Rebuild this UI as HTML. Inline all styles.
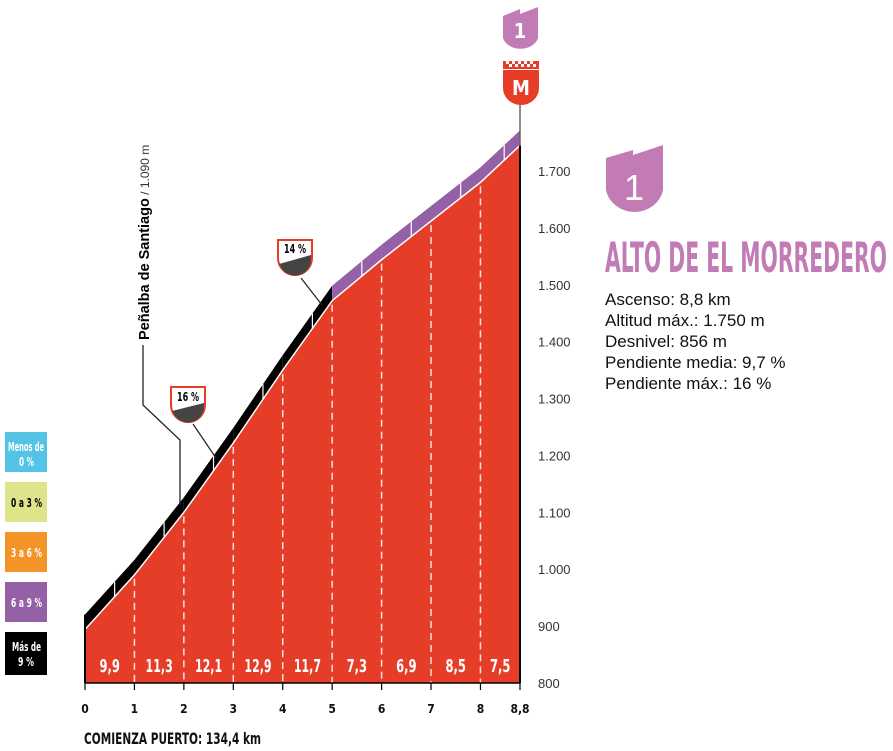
<!DOCTYPE html>
<html><head><meta charset="utf-8"><style>
body{margin:0;background:#fff;width:893px;height:751px;overflow:hidden}
svg{display:block}
.c{font-family:"DejaVu Sans Condensed","Liberation Sans Narrow","Liberation Sans",sans-serif;font-weight:bold;font-stretch:condensed}
.r{font-family:"Liberation Sans",sans-serif}
</style></head><body>
<svg id="chart" width="893" height="751" viewBox="0 0 893 751" xmlns="http://www.w3.org/2000/svg">
<g id="legend">
 <rect x="5" y="432" width="42" height="40" fill="#55c3e6"/>
 <text class="c" x="8" y="451" font-size="12" fill="#fff" textLength="36" lengthAdjust="spacingAndGlyphs">Menos de</text>
 <text class="c" x="19" y="466" font-size="12" fill="#fff" textLength="15" lengthAdjust="spacingAndGlyphs">0 %</text>
 <rect x="5" y="482" width="42" height="40" fill="#dde48a"/>
 <text class="c" x="11" y="507" font-size="12" fill="#000" textLength="31" lengthAdjust="spacingAndGlyphs">0 a 3 %</text>
 <rect x="5" y="532" width="42" height="40" fill="#f39426"/>
 <text class="c" x="11" y="557" font-size="12" fill="#fff" textLength="31" lengthAdjust="spacingAndGlyphs">3 a 6 %</text>
 <rect x="5" y="582" width="42" height="40" fill="#9460a6"/>
 <text class="c" x="11" y="607" font-size="12" fill="#fff" textLength="31" lengthAdjust="spacingAndGlyphs">6 a 9 %</text>
 <rect x="5" y="632" width="42" height="43" fill="#000"/>
 <text class="c" x="12" y="651" font-size="12" fill="#fff" textLength="29" lengthAdjust="spacingAndGlyphs">Más de</text>
 <text class="c" x="18" y="666" font-size="12" fill="#fff" textLength="16" lengthAdjust="spacingAndGlyphs">9 %</text>
</g>
<g id="plot"></g>
<g>
 <polyline points="143,345 143,405 180,440 180,505" fill="none" stroke="#222" stroke-width="1.3"/>
 <text transform="translate(149,340) rotate(-90)" font-size="14.5"><tspan class="r" font-weight="bold">Peñalba de Santiago</tspan><tspan class="r" font-size="12" fill="#333"> / 1.090 m</tspan></text>
</g>
<g>
 <line x1="193" y1="424" x2="216" y2="458" stroke="#222" stroke-width="1.2"/>
 <path d="M171,387 H205 V405 A17,17 0 0 1 171,405 Z" fill="#fff" stroke="#e53d27" stroke-width="2"/>
 <path d="M172,411 L204,403 V406 A16,16 0 0 1 173,412 Z" fill="#444"/>
 <text class="c" x="177" y="401" font-size="12" textLength="22" lengthAdjust="spacingAndGlyphs">16 %</text>
</g>
<g>
 <line x1="301" y1="278" x2="322" y2="305" stroke="#222" stroke-width="1.2"/>
 <path d="M278,240 H312 V258 A17,17 0 0 1 278,258 Z" fill="#fff" stroke="#e53d27" stroke-width="2"/>
 <path d="M279,264 L311,255 V259 A16,16 0 0 1 280,265 Z" fill="#444"/>
 <text class="c" x="284" y="253" font-size="12" textLength="22" lengthAdjust="spacingAndGlyphs">14 %</text>
</g>
<g>
 <path d="M503,16 L520,9 V14 L538,7 V38 A18,14 0 0 1 503,38 Z" fill="#c27bb5"/>
 <text class="c" x="520" y="38" font-size="20" fill="#fff" text-anchor="middle">1</text>
</g>
<g>
 <rect x="503" y="61" width="36" height="8" fill="#e53d27"/>
 <g fill="#fff"><rect x="506" y="61" width="3" height="3"/><rect x="512" y="61" width="3" height="3"/><rect x="518" y="61" width="3" height="3"/><rect x="524" y="61" width="3" height="3"/><rect x="530" y="61" width="3" height="3"/><rect x="509" y="64" width="3" height="3"/><rect x="515" y="64" width="3" height="3"/><rect x="521" y="64" width="3" height="3"/><rect x="527" y="64" width="3" height="3"/><rect x="533" y="64" width="3" height="3"/></g>
 <path d="M503,70 H539 V88 A18,17 0 0 1 503,88 Z" fill="#e53d27"/>
 <text class="c" x="521" y="95" font-size="20" fill="#fff" text-anchor="middle">M</text>
 <line x1="520" y1="105" x2="520" y2="145" stroke="#666" stroke-width="1.5"/>
</g>
<g>
 <path d="M606,158 L633,150 V155 L663,145 V190 A29,27 0 0 1 606,190 Z" fill="#c27bb5"/>
 <text class="r" x="634" y="200" font-size="36" fill="#fff" text-anchor="middle" font-family="Liberation Serif">1</text>
</g>
<text class="c" x="605" y="272" font-size="42" fill="#c27bb5" textLength="282" lengthAdjust="spacingAndGlyphs">ALTO DE EL MORREDERO</text>
<g class="r" font-size="17" fill="#111">
 <text x="605" y="305">Ascenso: 8,8 km</text>
 <text x="605" y="326">Altitud máx.: 1.750 m</text>
 <text x="605" y="347">Desnivel: 856 m</text>
 <text x="605" y="368">Pendiente media: 9,7 %</text>
 <text x="605" y="389">Pendiente máx.: 16 %</text>
</g>
<text class="c" x="84" y="744" font-size="16" fill="#111" textLength="177" lengthAdjust="spacingAndGlyphs">COMIENZA PUERTO: 134,4 km</text>
</svg>
<script>
const kms = [0,1,2,3,4,5,6,7,8,8.8];
const elevations = [894,990,1100,1222,1350,1472,1544,1612,1680,1745];
const gradients = [9.9,11.3,12.1,12.9,11.7,7.3,6.9,8.5,7.5];
const xTicks = [0,1,2,3,4,5,6,7,8,8.8];
const xTickLabels = ["0","1","2","3","4","5","6","7","8","8,8"];
const yTicks = [800,900,1000,1100,1200,1300,1400,1500,1600,1700];
const yTickLabels = ["800","900","1.000","1.100","1.200","1.300","1.400","1.500","1.600","1.700"];

const NS="http://www.w3.org/2000/svg";
const X=k=>85+k*(435/8.8);
const Y=e=>683-(e-800)*(512/900);
const plotG=document.getElementById('plot');
function mk(t,a){const e=document.createElementNS(NS,t);for(const k in a)e.setAttribute(k,a[k]);plotG.appendChild(e);return e;}
function color(p){return p<0?'#55c3e6':p<3?'#dde48a':p<6?'#f39426':p<9?'#9460a6':'#000';}
const OFF=15;
for(let i=0;i<gradients.length;i++){
 const x0=X(kms[i]),x1=X(kms[i+1]),y0=Y(elevations[i]),y1=Y(elevations[i+1]);
 const b=mk('polygon',{points:`${x0},${y0} ${x1},${y1} ${x1},${y1-OFF} ${x0},${y0-OFF}`,fill:color(gradients[i])});
 
 
 const xm=(x0+x1)/2+(x1-x0)*0.1, ym=Y(elevations[i]+(elevations[i+1]-elevations[i])*0.6);
 const s=mk('line',{x1:xm,y1:ym,x2:xm,y2:ym-OFF,stroke:'#fff','stroke-width':1.2});
 
 
}
const pts=`${X(0)},683 `+kms.map((k,i)=>`${X(k)},${Y(elevations[i])}`).join(' ')+` ${X(8.8)},683`;
const area=mk('polygon',{points:pts,fill:'#e53d27'});


const edge=mk('polyline',{points:kms.map((k,i)=>`${X(k)},${Y(elevations[i])}`).join(' '),fill:'none',stroke:'#fff','stroke-width':1.5});


mk('line',{x1:X(0),y1:Y(elevations[0])-OFF,x2:X(0),y2:683,stroke:'#000','stroke-width':2});
mk('line',{x1:X(8.8),y1:Y(elevations[9]),x2:X(8.8),y2:683,stroke:'#000','stroke-width':2});
for(let i=1;i<kms.length-1;i++){
 const d=mk('line',{x1:X(kms[i]),y1:Y(elevations[i])+4,x2:X(kms[i]),y2:683,stroke:'#fff','stroke-width':1.5,'stroke-dasharray':'7,5',opacity:0.85});
 
 
}
for(let i=0;i<gradients.length;i++){
 const label=String(gradients[i]).replace('.',',');
 const t=mk('text',{x:(X(kms[i])+X(kms[i+1]))/2,y:672,'text-anchor':'middle',fill:'#fff','font-size':18,class:'c',textLength:label.length*6.8,lengthAdjust:'spacingAndGlyphs'});
 t.textContent=label;
 
 
}
const ax=mk('line',{x1:X(0),y1:683,x2:X(8.8),y2:683,stroke:'#000','stroke-width':1.5});


xTicks.forEach((k,i)=>{
 mk('line',{x1:X(k),y1:683,x2:X(k),y2:690,stroke:'#000','stroke-width':1.2});
 const t=mk('text',{x:X(k),y:713,'text-anchor':'middle','font-size':12,class:'c',fill:'#111'});
 t.textContent=xTickLabels[i];
 
 
});
yTicks.forEach((v,i)=>{
 const t=mk('text',{x:538,y:Y(v)+5,'font-size':13,class:'r',fill:'#333'});
 t.textContent=yTickLabels[i];
 
 
});
</script>
</body></html>
